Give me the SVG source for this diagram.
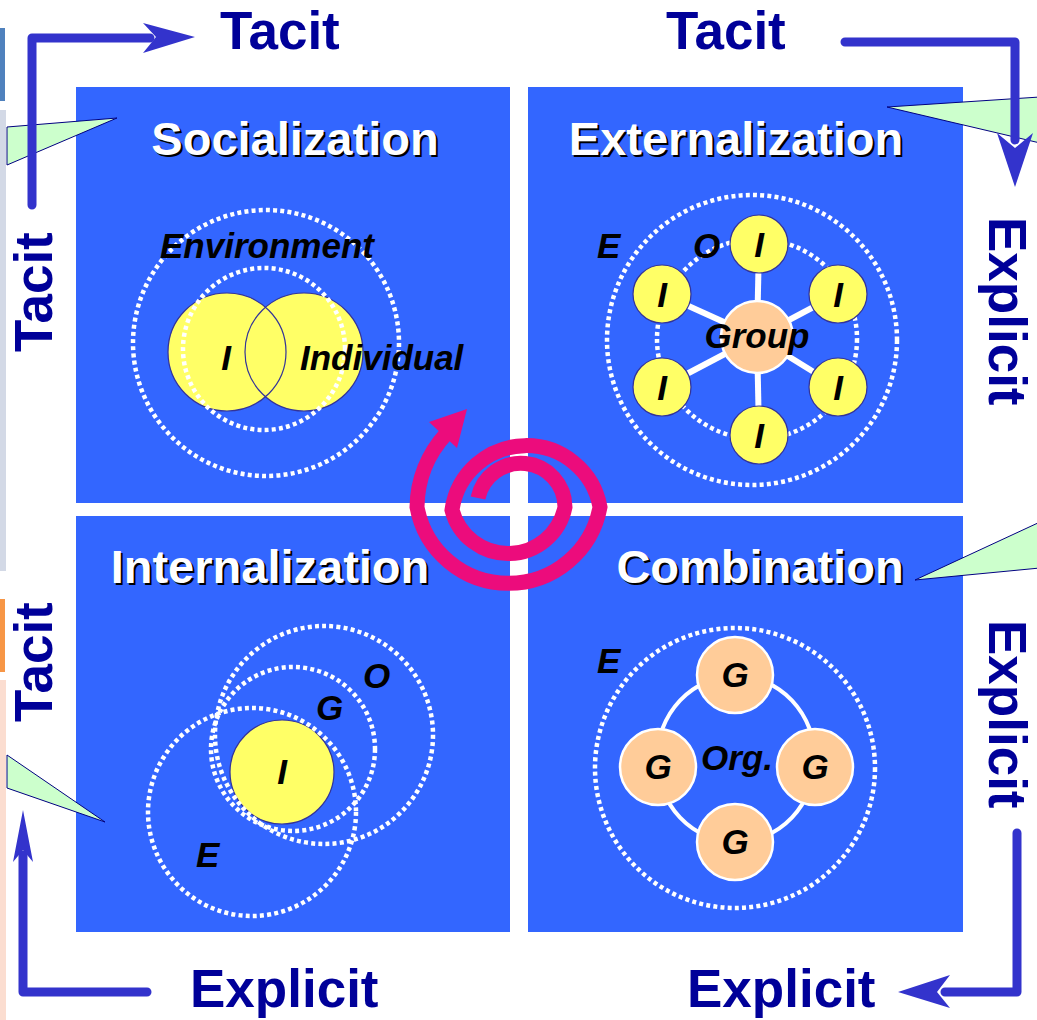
<svg xmlns="http://www.w3.org/2000/svg" width="1037" height="1020" viewBox="0 0 1037 1020">
  <style>
    .quad { fill: #3366FF; }
    .title { font-family: "Liberation Sans", Arial, sans-serif; font-weight: bold; font-size: 47px; text-anchor: middle; }
    .title-fg { fill: #FFFFFF; }
    .title-sh { fill: #000000; }
    .axis { font-family: "Liberation Sans", Arial, sans-serif; font-weight: bold; font-size: 53px; fill: #000099; }
    .lbl { font-family: "Liberation Sans", Arial, sans-serif; font-weight: bold; font-style: italic; font-size: 35px; fill: #000000; }
    .mid { text-anchor: middle; }
    .dots { fill: none; stroke: #FFFFFF; stroke-width: 4.5; stroke-dasharray: 4 3.2; }
    .ind { fill: #FFFF66; stroke: #333399; stroke-width: 1.2; }
    .grp { fill: #FFCC99; stroke: #FFFFFF; stroke-width: 2.5; }
    .spoke { stroke: #FFFFFF; stroke-width: 6; }
    .flow { fill: none; stroke: #3333CC; stroke-width: 9; stroke-linecap: round; stroke-linejoin: round; }
    .head { fill: #3333CC; }
    .callout { fill: #CCFFCC; stroke: #000080; stroke-width: 1; }
  </style>

  <rect width="1037" height="1020" fill="#FFFFFF"/>

  <!-- Socialization -->
  <g id="socialization">
    <rect class="quad" x="76" y="87" width="434" height="416"/>
    <circle class="dots" cx="266" cy="343" r="133"/>
    <circle cx="227" cy="352" r="59" fill="#FFFF66"/>
    <circle cx="304" cy="352" r="59" fill="#FFFF66"/>
    <circle cx="227" cy="352" r="59" fill="none" stroke="#333399" stroke-width="1.2"/>
    <circle cx="304" cy="352" r="59" fill="none" stroke="#333399" stroke-width="1.2"/>
    <circle class="dots" cx="264" cy="349" r="81"/>
    <text class="title title-sh" x="297" y="157">Socialization</text>
    <text class="title title-fg" x="295" y="155">Socialization</text>
    <text class="lbl" x="160" y="258">Environment</text>
    <text class="lbl mid" x="226" y="370">I</text>
    <text class="lbl" x="300" y="370">Individual</text>
  </g>

  <!-- Externalization -->
  <g id="externalization">
    <rect class="quad" x="528" y="87" width="435" height="416"/>
    <circle class="dots" cx="752" cy="340" r="145"/>
    <circle class="dots" cx="757" cy="339" r="100"/>
    <line class="spoke" x1="757" y1="337" x2="759" y2="244"/>
    <line class="spoke" x1="757" y1="337" x2="662" y2="294"/>
    <line class="spoke" x1="757" y1="337" x2="838" y2="294"/>
    <line class="spoke" x1="757" y1="337" x2="662" y2="387"/>
    <line class="spoke" x1="757" y1="337" x2="838" y2="387"/>
    <line class="spoke" x1="757" y1="337" x2="759" y2="435"/>
    <circle class="grp" cx="757" cy="337" r="36"/>
    <circle class="ind" cx="759" cy="244" r="29"/>
    <circle class="ind" cx="662" cy="294" r="29"/>
    <circle class="ind" cx="838" cy="294" r="29"/>
    <circle class="ind" cx="662" cy="387" r="29"/>
    <circle class="ind" cx="838" cy="387" r="29"/>
    <circle class="ind" cx="759" cy="435" r="29"/>
    <text class="title title-sh" x="738" y="157">Externalization</text>
    <text class="title title-fg" x="736" y="155">Externalization</text>
    <text class="lbl" x="597" y="258">E</text>
    <text class="lbl" x="693" y="258">O</text>
    <text class="lbl mid" x="757" y="348">Group</text>
    <text class="lbl mid" x="759" y="257">I</text>
    <text class="lbl mid" x="662" y="307">I</text>
    <text class="lbl mid" x="838" y="307">I</text>
    <text class="lbl mid" x="662" y="400">I</text>
    <text class="lbl mid" x="838" y="400">I</text>
    <text class="lbl mid" x="759" y="448">I</text>
  </g>

  <!-- Internalization -->
  <g id="internalization">
    <rect class="quad" x="76" y="516" width="434" height="416"/>
    <circle class="ind" cx="282" cy="772" r="52"/>
    <circle class="dots" cx="324" cy="735" r="109"/>
    <circle class="dots" cx="293" cy="749" r="82"/>
    <circle class="dots" cx="252" cy="812" r="104"/>
    <text class="title title-sh" x="272" y="585">Internalization</text>
    <text class="title title-fg" x="270" y="583">Internalization</text>
    <text class="lbl" x="363" y="688">O</text>
    <text class="lbl" x="316" y="720">G</text>
    <text class="lbl mid" x="282" y="784">I</text>
    <text class="lbl" x="196" y="867">E</text>
  </g>

  <!-- Combination -->
  <g id="combination">
    <rect class="quad" x="528" y="516" width="435" height="416"/>
    <circle class="dots" cx="735" cy="768" r="140"/>
    <ellipse cx="736" cy="759" rx="79" ry="83" fill="none" stroke="#FFFFFF" stroke-width="4"/>
    <circle class="grp" cx="735" cy="675" r="38"/>
    <circle class="grp" cx="658" cy="767" r="38"/>
    <circle class="grp" cx="815" cy="767" r="38"/>
    <circle class="grp" cx="735" cy="842" r="38"/>
    <text class="title title-sh" x="762" y="585">Combination</text>
    <text class="title title-fg" x="760" y="583">Combination</text>
    <text class="lbl" x="597" y="673">E</text>
    <text class="lbl" x="701" y="770">Org.</text>
    <text class="lbl mid" x="735" y="687">G</text>
    <text class="lbl mid" x="658" y="779">G</text>
    <text class="lbl mid" x="815" y="779">G</text>
    <text class="lbl mid" x="735" y="854">G</text>
  </g>

  <!-- knowledge spiral -->
  <g id="spiral">
    <path d="M 478 498 A 44 44 0 0 1 565 507 A 58 58 0 0 1 452 510 A 75 75 0 0 1 600 507 A 93 93 0 0 1 417 507 A 110 110 0 0 1 446 434" fill="none" stroke="#EC0C7C" stroke-width="15"/>
    <polygon points="467,409 429,422 457,448" fill="#EC0C7C"/>
  </g>

  <!-- speech-bubble tails -->
  <g id="callouts">
    <polygon class="callout" points="7,127 117,118 7,165"/>
    <polygon class="callout" points="887,107 1040,97 1040,143"/>
    <polygon class="callout" points="915,580 1040,522 1040,568"/>
    <polygon class="callout" points="7,755 105,822 7,788"/>
  </g>

  <!-- side tabs -->
  <g id="side-tabs">
    <rect x="0" y="28" width="5" height="73" fill="#4F81BD"/>
    <rect x="0" y="110" width="6" height="461" fill="#D3D9E6"/>
    <rect x="0" y="599" width="5" height="73" fill="#F79646"/>
    <rect x="0" y="680" width="6" height="340" fill="#FBDDD0"/>
  </g>

  <!-- axis labels -->
  <g id="axis-labels">
    <text class="axis" x="220" y="49">Tacit</text>
    <text class="axis" x="666" y="49">Tacit</text>
    <text class="axis" transform="translate(52,352) rotate(-90)">Tacit</text>
    <text class="axis" transform="translate(52,722) rotate(-90)">Tacit</text>
    <text class="axis" transform="translate(989,217) rotate(90)">Explicit</text>
    <text class="axis" transform="translate(989,620) rotate(90)">Explicit</text>
    <text class="axis" x="190" y="1007">Explicit</text>
    <text class="axis" x="687" y="1007">Explicit</text>
  </g>

  <!-- mode transition arrows -->
  <g id="connectors">
    <polyline class="flow" points="32,205 32,38 150,38"/>
    <polygon class="head" points="195,37 143,23 156,37 143,53"/>
    <polyline class="flow" points="845,42 1015,42 1015,140"/>
    <polygon class="head" points="1015,187 997,133 1015,148 1033,133"/>
    <polyline class="flow" points="1017,833 1017,992 945,992"/>
    <polygon class="head" points="898,992 950,975 937,992 950,1008"/>
    <polyline class="flow" points="147,992 23,992 23,855"/>
    <polygon class="head" points="23,810 13,862 23,850 33,862"/>
  </g>
</svg>
